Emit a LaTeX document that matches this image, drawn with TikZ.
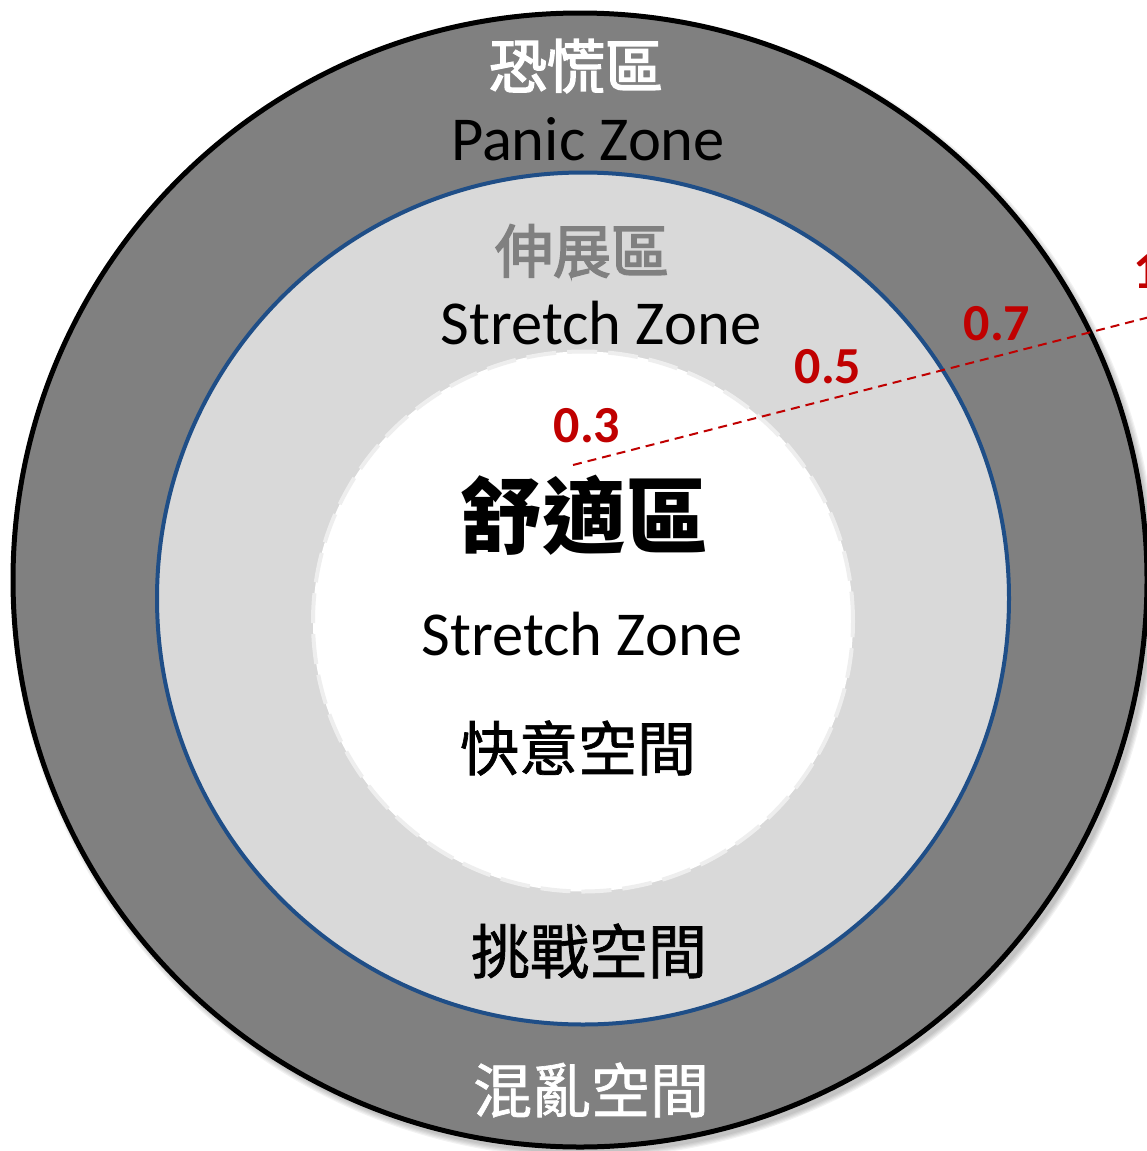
\documentclass[tikz,border=0pt]{standalone}
\usepackage{fontspec}
\setmainfont{Carlito}
\newfontfamily\cjk{Noto Sans CJK TC}
\newfontfamily\cjkmed{Noto Sans CJK TC}[FakeBold=1.2]
\newfontfamily\cjksemi{Noto Sans CJK TC}[FakeBold=2.6]
\definecolor{ringgray}{RGB}{128,128,128}
\definecolor{midgray}{RGB}{217,217,217}
\definecolor{zoneblue}{RGB}{31,78,135}
\definecolor{zonered}{RGB}{192,0,0}
\definecolor{dashgray}{RGB}{238,238,238}
\definecolor{labelgray}{RGB}{128,128,128}
\tikzset{
  cjkbig/.style={font=\cjksemi\fontsize{58}{60}\selectfont, inner sep=0pt},
  cjkreg/.style={font=\cjkmed\fontsize{59}{61}\selectfont, inner sep=0pt},
  cjkhuge/.style={font=\cjk\bfseries\fontsize{83}{85}\selectfont, inner sep=0pt},
  entext/.style={font=\fontsize{62.5}{64}\selectfont, inner sep=0pt},
  numlabel/.style={font=\bfseries\fontsize{52}{54}\selectfont, text=zonered, inner sep=0pt},
  outerring/.style={fill=ringgray, draw=black, line width=5pt},
  midring/.style={fill=midgray, draw=zoneblue, line width=4pt},
  innerring/.style={fill=white, draw=dashgray, line width=4pt, dash pattern=on 30pt off 11pt},
  radius line/.style={draw=zonered, line width=2pt, dash pattern=on 9pt off 6pt}
}
\begin{document}
\begin{tikzpicture}[x=1pt,y=-1pt]
\useasboundingbox (0,0) rectangle (1147,1151);
\clip (0,0) rectangle (1147,1151);
% soft shadow
\foreach \k/\op in {1/0.05,2/0.05,3/0.05,4/0.05,5/0.05}{
  \fill[black,opacity=\op] (584,585) circle[radius={567pt+\k*1.2pt}];
}
\path[outerring] (580,580) circle[radius=567pt];
\path[midring] (583,598.5) circle[radius=426pt];
\path[innerring] (583,621.5) circle[radius=270pt];

% labels
\node[cjkbig, text=white] (panicCN) at (576,66) {恐慌區};
\node[entext] (panicEN) at (588,139) {Panic Zone};
\node[cjkbig, text=labelgray] (stretchCN) at (582,251) {伸展區};
\node[entext] (stretchEN) at (601,323) {Stretch Zone};
\node[cjkhuge] (comfortCN) at (583.5,515) {舒適區};
\node[entext] (comfortEN) at (582,634) {Stretch Zone};
\node[cjkreg] (joy) at (578,748) {快意空間};
\node[cjkreg] (challenge) at (589,951) {挑戰空間};
\node[cjkreg, text=white] (chaos) at (591,1090) {混亂空間};

% radius line
\coordinate (rstart) at (573,465);
\coordinate (rend) at (1170,311.8);
\draw[radius line] (rstart) -- (rend);
\node[numlabel] (n03) at (587,426) {0.3};
\node[numlabel] (n05) at (828,367) {0.5};
\node[numlabel] (n07) at (997,324) {0.7};
\node[numlabel] (n1) at (1147,272) {1};
\end{tikzpicture}
\end{document}
